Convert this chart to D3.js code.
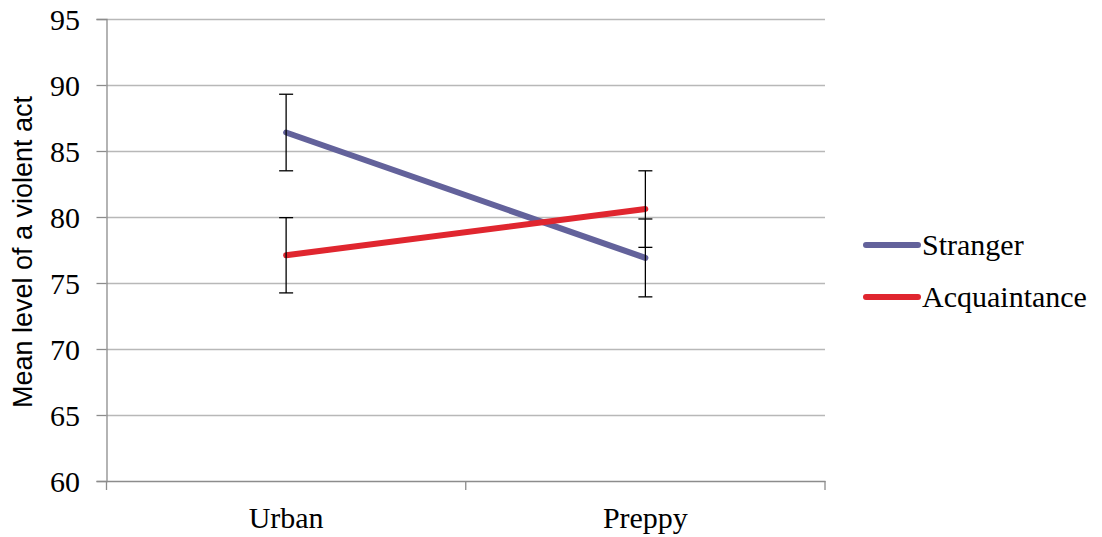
<!DOCTYPE html>
<html><head><meta charset="utf-8">
<script src="https://cdn.jsdelivr.net/npm/d3@7"></script>
<style>body{margin:0;background:#fff}</style>
</head><body><svg id="c" width="1102" height="537"></svg>
<script>
const categories = ["Urban", "Preppy"];
const seriesNames = ["Stranger", "Acquaintance"];
const strangerValues = [86.4, 76.9];
const strangerErrors = [2.9, 2.95];
const acquaintanceValues = [77.1, 80.6];
const acquaintanceErrors = [2.85, 2.9];
const yTicks = [60, 65, 70, 75, 80, 85, 90, 95];
const colors = ["#63629b", "#e0262f"];

const series = [
  {name: seriesNames[0], values: strangerValues, errors: strangerErrors, color: colors[0]},
  {name: seriesNames[1], values: acquaintanceValues, errors: acquaintanceErrors, color: colors[1]}
];

const svg = d3.select("#c");
const mLeft = 106.5, mRight = 825, mTop = 19, mBottom = 481;
const x = d3.scaleBand().domain(categories).range([mLeft, mRight]);
const y = d3.scaleLinear().domain([60, 95]).range([mBottom, mTop]);
const serif = "Liberation Serif, serif";

// gridlines
svg.append("g").selectAll("line").data(yTicks.filter(d => d > 60)).join("line")
  .attr("x1", mLeft).attr("x2", mRight)
  .attr("y1", d => y(d) + 0.5).attr("y2", d => y(d) + 0.5)
  .attr("stroke", "#b8b8b8").attr("stroke-width", 1.3);

// y axis
const ya = svg.append("g").attr("transform", `translate(${mLeft},0)`)
  .call(d3.axisLeft(y).tickValues(yTicks).tickSize(10).tickPadding(16.5));
ya.select(".domain").attr("stroke", "#8c8c8c").attr("stroke-width", 1.3);
ya.selectAll(".tick line").attr("stroke", "#8c8c8c").attr("stroke-width", 1.3);
ya.selectAll(".tick text").attr("font-family", serif)
  .attr("font-size", 30).attr("fill", "#000").attr("dy", "0.34em");

// x axis
const xa = svg.append("g").attr("transform", `translate(0,${mBottom})`)
  .call(d3.axisBottom(x).tickSize(0).tickPadding(26));
xa.select(".domain").attr("stroke", "#8c8c8c").attr("stroke-width", 1.3);
xa.selectAll(".tick text").attr("font-family", serif)
  .attr("font-size", 30).attr("fill", "#000");
// boundary ticks
const bounds = [mLeft, ...categories.slice(1).map(c => x(c)), mRight];
svg.append("g").selectAll("line").data(bounds).join("line")
  .attr("x1", d => d).attr("x2", d => d).attr("y1", mBottom).attr("y2", mBottom + 9)
  .attr("stroke", "#8c8c8c").attr("stroke-width", 1.3);

// y title
svg.append("text").attr("transform", `translate(32,252) rotate(-90)`)
  .attr("text-anchor", "middle").attr("font-family", "Liberation Sans, Arial, sans-serif")
  .attr("font-size", 27).text("Mean level of a violent act");

const cx = c => x(c) + x.bandwidth() / 2;

// lines
const line = d3.line().x((d, i) => cx(categories[i])).y(d => y(d));
series.forEach(s => {
  svg.append("path").datum(s.values).attr("d", line).attr("fill", "none")
    .attr("stroke", s.color).attr("stroke-width", 6).attr("stroke-linecap", "round");
});

// error bars
series.forEach(s => {
  const g = svg.append("g");
  s.values.forEach((v, i) => {
    const xc = cx(categories[i]);
    const y1 = y(v + s.errors[i]), y2 = y(v - s.errors[i]);
    g.append("line").attr("x1", xc).attr("x2", xc).attr("y1", y1).attr("y2", y2)
      .attr("stroke", "#000").attr("stroke-width", 1.3);
    [y1, y2].forEach(yy => g.append("line").attr("x1", xc - 7).attr("x2", xc + 7)
      .attr("y1", yy).attr("y2", yy).attr("stroke", "#000").attr("stroke-width", 1.3));
  });
});

// legend
const lg = svg.append("g");
series.forEach((s, i) => {
  const ly = 245 + i * 52;
  lg.append("line").attr("x1", 866).attr("x2", 918).attr("y1", ly).attr("y2", ly)
    .attr("stroke", s.color).attr("stroke-width", 6).attr("stroke-linecap", "round");
  lg.append("text").attr("x", 922).attr("y", ly).attr("dy", "0.34em")
    .attr("font-family", serif).attr("font-size", 30).text(s.name);
});
</script></body></html>
